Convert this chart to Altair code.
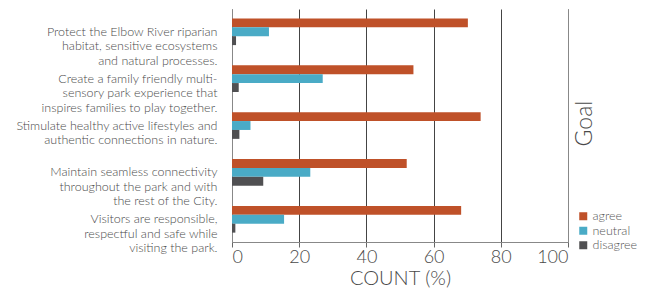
import altair as alt
import pandas as pd

goals = [
    "Protect the Elbow River riparian|habitat, sensitive ecosystems|and natural processes.",
    "Create a family friendly multi-|sensory park experience that|inspires families to play together.",
    "Stimulate healthy active lifestyles and|authentic connections in nature.",
    "Maintain seamless connectivity|throughout the park and with|the rest of the City.",
    "Visitors are responsible,|respectful and safe while|visiting the park.",
]
responses = ["agree", "neutral", "disagree"]
agree = [70.2, 54.0, 74.0, 52.0, 68.2]
neutral = [11.0, 27.0, 5.5, 23.3, 15.5]
disagree = [1.2, 2.0, 2.2, 9.3, 1.0]
colors = ["#BF5129", "#4AABC6", "#505052"]

rows = []
for i, g in enumerate(goals):
    for r, vals in zip(responses, [agree, neutral, disagree]):
        rows.append({"goal": g, "response": r, "count": vals[i]})
df = pd.DataFrame(rows)

FONT = "Lato"
TXT = "#4a4a4a"

bars = alt.Chart(df).mark_bar().encode(
    x=alt.X("count:Q", scale=alt.Scale(domain=[0, 100], nice=False),
            axis=alt.Axis(values=[0, 20, 40, 60, 80, 100], title="COUNT (%)",
                          grid=True, gridColor="#444444", gridWidth=1,
                          tickColor="#666666", tickSize=5, domainColor="#888888",
                          labelFontSize=18, labelColor=TXT, labelFont=FONT,
                          labelFontWeight=300,
                          titleFontSize=20, titleFontWeight=300, titleColor=TXT,
                          titleFont=FONT, labelPadding=1, titlePadding=2)),
    y=alt.Y("goal:N", sort=goals,
            scale=alt.Scale(paddingInner=0.43, paddingOuter=0.2),
            axis=alt.Axis(title=None, labelExpr="split(datum.label, '|')",
                          labelFontSize=12.5, labelColor=TXT, labelFont=FONT,
                          labelFontWeight=300,
                          labelLineHeight=14.5, ticks=False, labelPadding=15,
                          domainColor="#888888", labelLimit=400)),
    yOffset=alt.YOffset("response:N", sort=responses),
    color=alt.Color("response:N", sort=responses,
                    scale=alt.Scale(domain=responses, range=colors),
                    legend=alt.Legend(title=None, orient="none", legendX=345, legendY=201,
                                      symbolType="square", symbolSize=64,
                                      symbolStrokeWidth=0, labelFontSize=12.5,
                                      labelColor="#555555", labelFont=FONT,
                                      labelFontWeight=300,
                                      rowPadding=1.5, labelOffset=3)),
)

goal_axis = alt.Chart(df).mark_point(opacity=0).encode(
    y=alt.Y("goal:N", sort=goals,
            axis=alt.Axis(orient="right", labels=False, ticks=False, domain=True,
                          domainColor="#888888", title="Goal", titleFontSize=23,
                          titleFontWeight=300, titleColor=TXT, titleFont=FONT,
                          titleAngle=270, titleX=16, titleY=114,
                          titleBaseline="middle", titleAlign="center")),
    x=alt.X("count:Q"),
)

chart = alt.layer(bars, goal_axis).resolve_axis(y="independent").properties(
    width=336, height=233,
    autosize=alt.AutoSizeParams(type="none"),
    padding={"left": 224, "top": 1, "right": 69, "bottom": 47},
).configure_view(stroke=None)

chart.save("out.html", embed_options={"renderer": "svg", "actions": False})
